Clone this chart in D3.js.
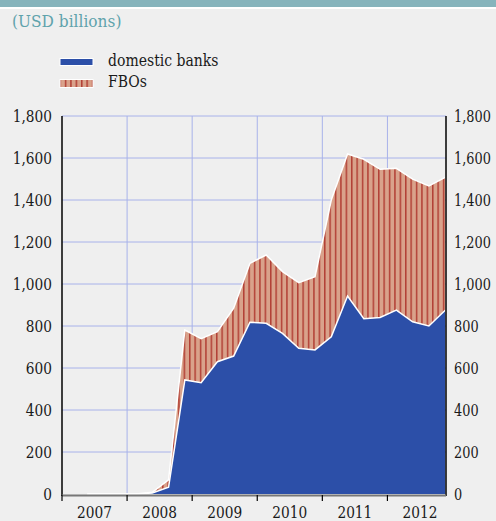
<!DOCTYPE html>
<html>
<head>
<meta charset="utf-8">
<script src="https://cdn.jsdelivr.net/npm/d3@7"></script>
<style>
  html, body { margin: 0; padding: 0; background: #efefef; }
  svg { display: block; }
</style>
</head>
<body>
<svg id="chart" width="496" height="521" font-family="DejaVu Serif"></svg>
<script>
// ---- data (USD billions), quarterly ----
const quarters = ["2007Q2","2007Q3","2007Q4","2008Q1","2008Q2","2008Q3","2008Q4",
  "2009Q1","2009Q2","2009Q3","2009Q4","2010Q1","2010Q2","2010Q3","2010Q4",
  "2011Q1","2011Q2","2011Q3","2011Q4","2012Q1","2012Q2","2012Q3","2012Q4"];
const domesticBanks = [0,0,0,0,5,32,543,530,630,657,818,813,765,694,686,749,943,835,841,876,820,800,875];
const fbos = [0,0,0,0,3,35,238,210,143,228,281,325,294,312,349,651,676,759,705,675,679,667,633];
const yTicks = [0,200,400,600,800,1000,1200,1400,1600,1800];
const years = ["2007","2008","2009","2010","2011","2012"];
const seriesNames = ["domestic banks","FBOs"];

(function () {
const FONT = "DejaVu Serif";
const svg = d3.select("#chart");
const W = 496, H = 521;
const pLeft = 62, pRight = 446, pTop = 116, pBottom = 494;

const colors = { blue: "#2c4fa8", salmon: "#d9a28b", stripe: "#b23f35", grid: "#a8b2ea", teal: "#86b4bc", title: "#5fa3ac" };

// horizontally condense a serif text so it reads like the original Times face
function condense(sel, f) {
  sel.each(function () {
    const w = this.getComputedTextLength();
    d3.select(this).attr("textLength", w * f).attr("lengthAdjust", "spacingAndGlyphs");
  });
}

svg.append("rect").attr("width", W).attr("height", H).attr("fill", "#efefef");
svg.append("rect").attr("x", 0).attr("y", 0).attr("width", W).attr("height", 7).attr("fill", colors.teal);
svg.append("rect").attr("x", 0).attr("y", 7).attr("width", W).attr("height", 2).attr("fill", "#ffffff");

const defs = svg.append("defs");
const pat = defs.append("pattern").attr("id", "stripes").attr("patternUnits", "userSpaceOnUse")
  .attr("width", 5.4).attr("height", 10);
pat.append("rect").attr("width", 5.4).attr("height", 10).attr("fill", colors.salmon);
pat.append("rect").attr("x", 0).attr("width", 1.5).attr("height", 10).attr("fill", colors.stripe);

svg.append("text").attr("x", 12).attr("y", 27).attr("font-family", FONT).attr("font-size", 17.5)
  .attr("fill", colors.title).text("(USD billions)").call(condense, 0.88);

svg.append("rect").attr("x", 60).attr("y", 58.5).attr("width", 33).attr("height", 7)
  .attr("fill", colors.blue).attr("stroke", "#fff").attr("stroke-width", 1);
svg.append("text").attr("x", 108).attr("y", 66).attr("font-family", FONT).attr("font-size", 17.5)
  .attr("fill", "#1a1a1a").text(seriesNames[0]).call(condense, 0.8);
svg.append("rect").attr("x", 60).attr("y", 79.5).attr("width", 33).attr("height", 8)
  .attr("fill", "url(#stripes)").attr("stroke", "#fff").attr("stroke-width", 1);
svg.append("text").attr("x", 108).attr("y", 87).attr("font-family", FONT).attr("font-size", 17.5)
  .attr("fill", "#1a1a1a").text(seriesNames[1]).call(condense, 0.8);

const qPos = q => (+q.slice(0,4) - 2007) * 4 + (+q.slice(5) - 1) + 0.55;
const x = d3.scaleLinear().domain([0, 23.6]).range([pLeft, pRight]);
const y = d3.scaleLinear().domain([0, 1800]).range([pBottom, pTop]);

const g = svg.append("g");
g.selectAll("line.h").data(yTicks.filter(d => d > 0)).join("line")
  .attr("x1", pLeft).attr("x2", pRight).attr("y1", d => y(d)).attr("y2", d => y(d))
  .attr("stroke", colors.grid).attr("stroke-width", 1);
g.selectAll("line.v").data(years.slice(1)).join("line")
  .attr("x1", (d, i) => x((i + 1) * 4)).attr("x2", (d, i) => x((i + 1) * 4))
  .attr("y1", pTop).attr("y2", pBottom)
  .attr("stroke", colors.grid).attr("stroke-width", 1);

const data = quarters.map((q, i) => ({ p: qPos(q), d: domesticBanks[i], f: fbos[i] }));

const areaF = d3.area().x(d => x(d.p)).y0(d => y(d.d)).y1(d => y(d.d + d.f));
const areaD = d3.area().x(d => x(d.p)).y0(y(0)).y1(d => y(d.d));
svg.append("path").datum(data).attr("d", areaF).attr("fill", "url(#stripes)");
svg.append("path").datum(data).attr("d", areaD).attr("fill", colors.blue);
const lineT = d3.line().x(d => x(d.p)).y(d => y(d.d + d.f));
const lineD = d3.line().x(d => x(d.p)).y(d => y(d.d));
svg.append("path").datum(data).attr("d", lineT).attr("fill", "none").attr("stroke", "#fff").attr("stroke-width", 1.5);
svg.append("path").datum(data).attr("d", lineD).attr("fill", "none").attr("stroke", "#fff").attr("stroke-width", 1.5);

const fmt = d3.format(",");
const yAxisL = d3.axisLeft(y).tickValues(yTicks).tickFormat(fmt).tickSize(0).tickPadding(10);
const yAxisR = d3.axisRight(y).tickValues(yTicks).tickFormat(fmt).tickSize(0).tickPadding(8);
const gl = svg.append("g").attr("transform", `translate(${pLeft},0)`).call(yAxisL);
const gr = svg.append("g").attr("transform", `translate(${pRight},0)`).call(yAxisR);
[[gl, 0.83], [gr, 0.78]].forEach(([a, f]) => {
  a.attr("font-family", FONT);
  a.select(".domain").remove();
  a.selectAll("text").attr("font-size", 16.5).attr("fill", "#1a1a1a")
    .attr("font-family", FONT).attr("dy", "0.36em").call(condense, f);
});
svg.append("line").attr("x1", pLeft).attr("x2", pLeft).attr("y1", pTop).attr("y2", pBottom + 2)
  .attr("stroke", "#000").attr("stroke-width", 1.5);
svg.append("line").attr("x1", pRight).attr("x2", pRight).attr("y1", pTop).attr("y2", pBottom + 2)
  .attr("stroke", "#000").attr("stroke-width", 1.5);

svg.append("line").attr("x1", pLeft).attr("x2", pRight).attr("y1", pBottom + 1.5).attr("y2", pBottom + 1.5)
  .attr("stroke", "#777").attr("stroke-width", 2);
svg.selectAll("line.xt").data(years).join("line")
  .attr("x1", (d, i) => x(i * 4)).attr("x2", (d, i) => x(i * 4))
  .attr("y1", pBottom + 1).attr("y2", pBottom + 7)
  .attr("stroke", "#000").attr("stroke-width", 1.2);
svg.selectAll("text.yr").data(years).join("text")
  .attr("x", (d, i) => x(i * 4 + 2)).attr("y", 518)
  .attr("text-anchor", "middle").attr("font-family", FONT).attr("font-size", 16.5)
  .attr("fill", "#1a1a1a").text(d => d).call(condense, 0.83);
})();
</script>
</body>
</html>
